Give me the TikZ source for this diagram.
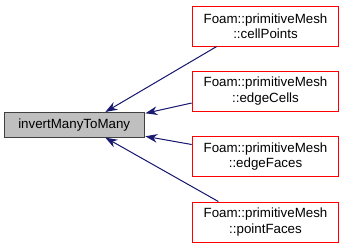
\documentclass[tikz,border=0pt]{standalone}
\usepackage{fontspec}
\setmainfont{Liberation Sans}
\usetikzlibrary{arrows.meta}
\definecolor{edgeblue}{RGB}{25,25,112}
\definecolor{boxgray}{RGB}{191,191,191}
\definecolor{boxline}{RGB}{64,64,64}

\begin{document}
\begin{tikzpicture}[>={Stealth[length=9pt,width=6.5pt]}, x=0.75pt, y=-0.75pt,
  callee/.style={draw=red, line width=0.75pt, minimum width=110pt, minimum height=30pt,
    inner sep=0pt, align=center, font=\fontsize{10}{11.5}\selectfont},
  dep/.style={->, draw=edgeblue, fill=edgeblue, line width=0.75pt}]

\useasboundingbox (0,0) rectangle (344,248);

\node[draw=boxline, fill=boxgray, line width=0.75pt, minimum width=105pt, minimum height=18.5pt,
  inner sep=0pt, font=\fontsize{10}{12}\selectfont] (main) at (74.2,124.8) {invertManyToMany};

\node[callee] (cp) at (265.5,26) {Foam::primitiveMesh\\::cellPoints};
\node[callee] (ec) at (265.5,91) {Foam::primitiveMesh\\::edgeCells};
\node[callee] (ef) at (265.5,156.5) {Foam::primitiveMesh\\::edgeFaces};
\node[callee] (pf) at (265.5,222) {Foam::primitiveMesh\\::pointFaces};

\draw[dep] ([xshift=18.75pt]cp.south west) -- ([xshift=-29.5pt]main.north east);
\draw[dep] ([yshift=-9pt]ec.west) -- ([xshift=0.5pt,yshift=-1pt]main.north east);
\draw[dep] ([yshift=9pt]ef.west) -- ([xshift=0.5pt,yshift=1pt]main.south east);
\draw[dep] ([xshift=20pt]pf.north west) -- ([xshift=-29.5pt]main.south east);
\end{tikzpicture}
\end{document}
